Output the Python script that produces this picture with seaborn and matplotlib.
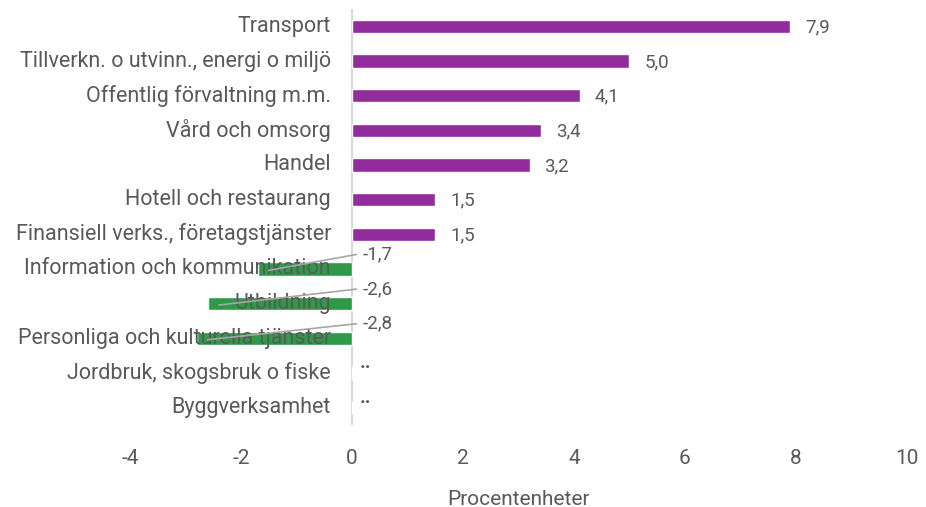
"""Horizontal bar chart: change per industry in percentage points."""

import matplotlib.pyplot as plt
import matplotlib.transforms as mtransforms
import pandas as pd
import seaborn as sns

categories = [
    "Transport",
    "Tillverkn. o utvinn., energi o miljö",
    "Offentlig förvaltning m.m.",
    "Vård och omsorg",
    "Handel",
    "Hotell och restaurang",
    "Finansiell verks., företagstjänster",
    "Information och kommunikation",
    "Utbildning",
    "Personliga och kulturella tjänster",
    "Jordbruk, skogsbruk o fiske",
    "Byggverksamhet",
]
values = [7.9, 5.0, 4.1, 3.4, 3.2, 1.5, 1.5, -1.7, -2.6, -2.8, None, None]
x_ticks = [-4, -2, 0, 2, 4, 6, 8, 10]

PURPLE = "#922B9B"
GREEN = "#2E9A48"
TEXT = "#595959"

sns.set_theme(style="white")
plt.rcParams["font.family"] = ["Roboto", "DejaVu Sans"]

df = pd.DataFrame({"category": categories, "value": values})
df["plot_value"] = df["value"].fillna(0)
df["sign"] = ["pos" if (v or 0) >= 0 else "neg" for v in values]

fig = plt.figure(figsize=(9.26, 5.07), dpi=100)
ax = fig.add_axes([130 / 926, 1 - 425 / 507, 777 / 926, 416 / 507])

sns.barplot(
    data=df, x="plot_value", y="category", hue="sign", orient="h",
    palette={"pos": PURPLE, "neg": GREEN}, width=0.38, legend=False, ax=ax,
    dodge=False, saturation=1,
)

ax.set_xlim(x_ticks[0], x_ticks[-1])
ax.set_ylim(len(categories) - 0.5, -0.5)
ax.set_xticks(x_ticks)
ax.set_xticklabels([str(t) for t in x_ticks], color=TEXT, fontsize=15)
ax.tick_params(axis="x", length=0, pad=17)
ax.set_yticks([])
ax.set_ylabel("")
ax.set_xlabel("Procentenheter", color=TEXT, fontsize=15, labelpad=16)
for side in ["top", "right", "bottom", "left"]:
    ax.spines[side].set_visible(False)
ax.axvline(0, color="#d9d9d9", linewidth=1.5, zorder=0)

# category labels sit just left of the zero line
lab_tf = ax.transData + mtransforms.ScaledTranslation(-21 / 100, 0, fig.dpi_scale_trans)
for i, name in enumerate(categories):
    ax.text(0, i, name, transform=lab_tf, ha="right", va="center",
            color=TEXT, fontsize=15.5, zorder=5)

# value labels
for i, v in enumerate(values):
    if v is None:
        t = ax.transData + mtransforms.ScaledTranslation(8 / 100, 10 / 100, fig.dpi_scale_trans)
        ax.text(0, i, "..", transform=t, ha="left", va="center",
                color=TEXT, fontsize=14, fontweight="bold")
    elif v > 0:
        t = ax.transData + mtransforms.ScaledTranslation(15 / 100, -1 / 100, fig.dpi_scale_trans)
        ax.text(v, i, f"{v:.1f}".replace(".", ","), transform=t, ha="left",
                va="center", color=TEXT, fontsize=13.5)
    else:
        lab_y = i - 0.42
        ax.plot([v + 0.2, 0.08], [i + 0.04, lab_y], color="#a6a6a6",
                linewidth=1.2, zorder=6)
        ax.text(0.2, lab_y, f"{v:.1f}".replace(".", ","), ha="left",
                va="center", color=TEXT, fontsize=13.5)

fig.savefig("out.png", dpi=100)
